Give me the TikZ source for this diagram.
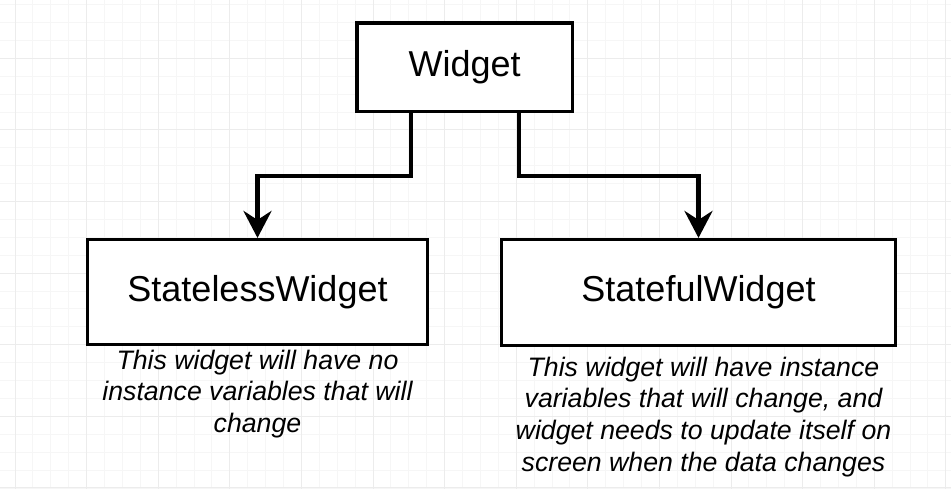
\documentclass[tikz,border=0pt]{standalone}
\usepackage{fontspec}
\setmainfont{Liberation Sans}
\usetikzlibrary{arrows.meta}
\definecolor{gridminor}{HTML}{F6F6F6}
\definecolor{gridmajor}{HTML}{ECECEC}
\tikzset{
  box/.style={draw=black, line width=3.3pt, fill=white, inner sep=0pt,
    font=\fontsize{36}{43}\selectfont},
  desc/.style={inner sep=0pt, align=center, anchor=north,
    font=\fontsize{26.7}{31.8}\selectfont\itshape},
  conn/.style={draw=black, line width=4.5pt,
    -{Stealth[length=27pt,width=28pt,inset=9pt]}}
}
\begin{document}
\begin{tikzpicture}[x=1pt,y=-1pt]
\useasboundingbox (0,0) rectangle (951,489);
\fill[white] (0,0) rectangle (951,489);
% grid
\foreach \i in {0,...,53} {
  \draw[gridminor, line width=0.8pt] ({14.9+17.9*\i},0) -- ({14.9+17.9*\i},489);
}
\foreach \i in {0,...,27} {
  \draw[gridminor, line width=0.8pt] (0,{4.6+17.9*\i}) -- (951,{4.6+17.9*\i});
}
\foreach \i in {-1,...,13} {
  \draw[gridmajor, line width=0.9pt] ({86.7+71.6*\i},0) -- ({86.7+71.6*\i},489);
}
\foreach \i in {0,...,6} {
  \draw[gridmajor, line width=0.9pt] (0,{58.3+71.6*\i}) -- (951,{58.3+71.6*\i});
}
% boxes
\node[box, minimum width=215.4pt, minimum height=88.5pt] (w) at (464.7,67.3) {Widget};
\node[box, minimum width=339.8pt, minimum height=104.8pt] (sl) at (257.5,292) {StatelessWidget};
\node[box, minimum width=393.8pt, minimum height=105.8pt] (sf) at (698.5,292.5) {StatefulWidget};
% descriptions
\node[desc] (sld) at (257.5,349.5) {This widget will have no\\instance variables that will\\change};
\node[desc] (sfd) at (703.5,356.5) {This widget will have instance\\variables that will change, and\\widget needs to update itself on\\screen when the data changes};
% connectors
\draw[conn] ([xshift=-53.7pt]w.south) -- ++(0,62.6) -| (sl.north);
\draw[conn] ([xshift=54.3pt]w.south) -- ++(0,62.6) -| (sf.north);
\end{tikzpicture}
\end{document}
